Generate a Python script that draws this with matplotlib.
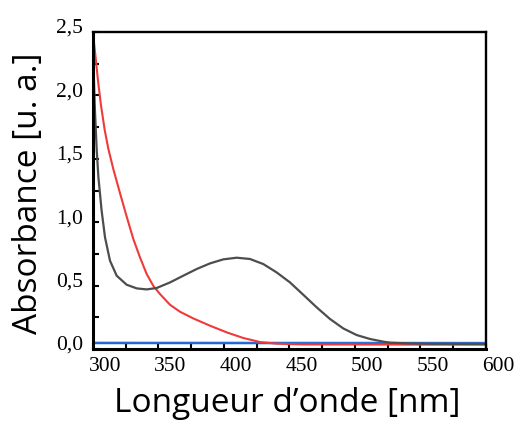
import numpy as np
import matplotlib.pyplot as plt
from matplotlib.transforms import ScaledTranslation

# gray curve (wavelength nm, absorbance)
gray_nm = [300, 300.8, 301.5, 302.3, 302.8, 304.1, 306.6, 309.2, 313.0, 318.1,
           325.7, 333.4, 341.0, 348.6, 358.8, 368.9, 379.2, 389.3, 399.5, 409.7,
           419.8, 430.0, 440.2, 450.4, 460.5, 470.8, 480.9, 491.1, 501.3, 511.5,
           521.6, 526.7, 540, 560, 600]
gray_abs = [2.4, 2.1, 1.88, 1.70, 1.58, 1.36, 1.091, 0.880, 0.696, 0.578,
            0.507, 0.478, 0.470, 0.481, 0.525, 0.578, 0.631, 0.675, 0.707, 0.720,
            0.710, 0.670, 0.604, 0.525, 0.428, 0.328, 0.237, 0.162, 0.110, 0.079,
            0.058, 0.050, 0.044, 0.041, 0.040]

# red curve
red_nm = [300, 302, 303.8, 306, 308.9, 311.7, 315.5, 320.6, 325.7, 330.8, 335.9,
          341.0, 346.0, 351.1, 358.8, 366.4, 376.6, 389.3, 402.1, 414.7, 427.5,
          440.2, 460, 600]
red_abs = [2.49, 2.30, 2.12, 1.93, 1.73, 1.58, 1.42, 1.23, 1.045, 0.867, 0.722,
           0.591, 0.499, 0.434, 0.349, 0.294, 0.241, 0.184, 0.131, 0.087, 0.055,
           0.042, 0.036, 0.034]

# blue curves (flat baseline)
blue_nm = [300, 600]
blue_abs = [0.046, 0.045]
lblue_abs = [0.051, 0.049]

fig = plt.figure(figsize=(5.2, 4.21), dpi=100)
ax = fig.add_axes([0.1788, 0.171, 0.7558, 0.753])

ax.plot(blue_nm, lblue_abs, color='#5a9cf0', lw=1.5)
ax.plot(blue_nm, blue_abs, color='#1e64d2', lw=1.5)
ax.plot(red_nm, red_abs, color='#f03a3a', lw=1.5)
ax.plot(gray_nm, gray_abs, color='#4d4d4d', lw=1.6)

ax.set_xlim(300, 600)
ax.set_ylim(0, 2.5)
ax.set_xticks(np.arange(300, 601, 50))
ax.set_xticks(np.arange(325, 600, 50), minor=True)
ax.set_yticks(np.arange(0, 2.51, 0.5))
ax.set_yticks(np.arange(0.25, 2.5, 0.5), minor=True)
ax.set_yticklabels(['0,0', '0,5', '1,0', '1,5', '2,0', '2,5'])

ax.tick_params(which='both', direction='in', length=4, width=1.5)
ax.tick_params(axis='x', pad=6)
ax.tick_params(axis='y', pad=7)
for s in ['left', 'bottom']:
    ax.spines[s].set_linewidth(2.2)
for s in ['top', 'right']:
    ax.spines[s].set_linewidth(1.7)

for lab in ax.get_xticklabels():
    lab.set_fontfamily('Liberation Serif')
    lab.set_fontsize(15.5)
    lab.set_transform(lab.get_transform() + ScaledTranslation(12/100, 0, fig.dpi_scale_trans))
for lab in ax.get_yticklabels():
    lab.set_fontfamily('Liberation Serif')
    lab.set_fontsize(15.5)
    lab.set_transform(lab.get_transform() + ScaledTranslation(0, 6/100, fig.dpi_scale_trans))

fig.text(0.552, 0.042, 'Longueur d’onde [nm]', family='Open Sans', fontsize=24,
         ha='center', va='center')
fig.text(0.054, 0.54, 'Absorbance [u. a.]', family='Open Sans', fontsize=24,
         ha='center', va='center', rotation=90)

fig.savefig('out.png', dpi=100)
